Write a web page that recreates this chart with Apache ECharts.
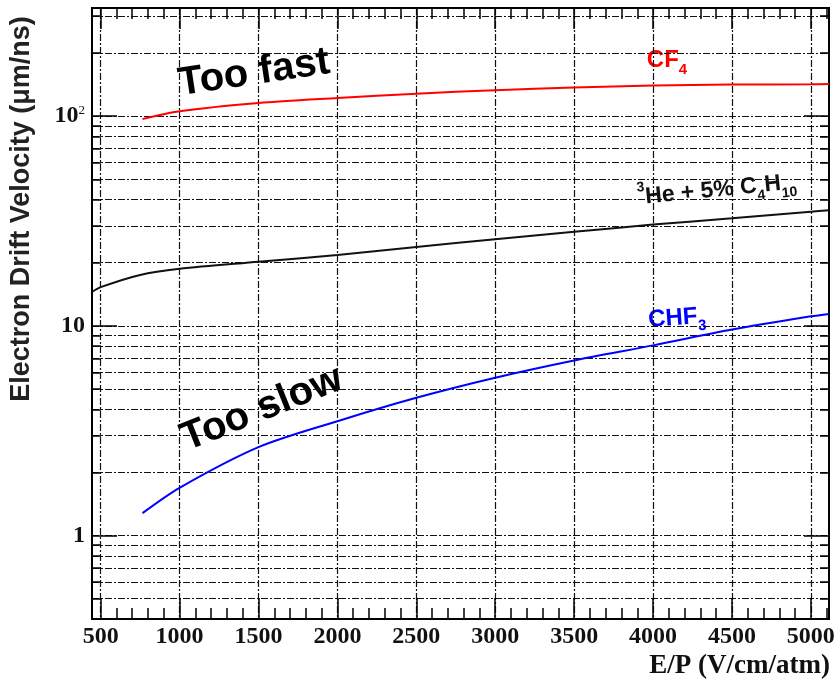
<!DOCTYPE html>
<html>
<head>
<meta charset="utf-8">
<script src="https://cdn.jsdelivr.net/npm/echarts@6/dist/echarts.min.js"></script>
<style>
html, body { margin: 0; padding: 0; background: #fff; }
#chart { width: 840px; height: 683px; }
</style>
</head>
<body>
<div id="chart"></div>
<script>
// E/P (V/cm/atm) and drift velocity (um/ns)
var cf4_ep  = [765, 1000, 1500, 2000, 2500, 3000, 3500, 4000, 4500, 5000, 5115];
var cf4_v   = [96.8, 105.5, 115.5, 122, 128, 133, 137, 140, 141.5, 142, 142.3];
var he_ep   = [445, 500, 750, 1000, 1500, 2000, 2500, 3000, 3500, 4000, 4500, 5000, 5115];
var he_v    = [14.5, 15.3, 17.5, 18.7, 20.2, 21.8, 23.8, 25.9, 28.1, 30.4, 32.6, 35.0, 35.6];
var chf3_ep = [765, 1000, 1500, 2000, 2500, 3000, 3500, 4000, 4500, 5000, 5115];
var chf3_v  = [1.28, 1.69, 2.64, 3.51, 4.54, 5.66, 6.84, 8.07, 9.6, 11.1, 11.4];

// tick labels
var xMajorTicks = [500, 1000, 1500, 2000, 2500, 3000, 3500, 4000, 4500, 5000];
var yLabelTicks = [1, 10, 100];

var xRange = [445, 5115];
var yRange = [0.4, 328];

// minor ticks: every 100 on x, 1..9 per decade on y
var xMinorTicks = [];
for (var t = 500; t <= 5100; t += 100) xMinorTicks.push(t);
var yGridTicks = [];
[0.1, 1, 10, 100].forEach(function (d) {
	for (var k = 1; k <= 9; k++) {
		var v = +(d * k).toPrecision(3);
		if (v > yRange[0] && v < yRange[1]) yGridTicks.push(v);
	}
});

function pairs(xs, ys) {
	return xs.map(function (x, i) { return [x, ys[i]]; });
}

var gridDash = { color: '#111', width: 1.2, type: [7, 2, 2, 2] };
var serifLabel = { fontFamily: 'Liberation Serif', fontWeight: 'bold', fontSize: 24, color: '#111' };

function xAxisDef(pos, ticks, len, withLabels, withGrid) {
	return {
		type: 'value', position: pos, min: xRange[0], max: xRange[1],
		axisLine: { show: false },
		axisTick: { show: true, inside: true, length: len, customValues: ticks,
			lineStyle: { color: '#000', width: 1.5 } },
		axisLabel: withLabels ? Object.assign({ show: true, margin: 6, customValues: xMajorTicks,
			formatter: function (v) { return String(v); } }, serifLabel) : { show: false },
		splitLine: withGrid ? { show: true, lineStyle: gridDash } : { show: false }
	};
}

function yAxisDef(pos, ticks, len, withLabels, withGrid) {
	return {
		type: 'log', logBase: 10, position: pos, min: yRange[0], max: yRange[1],
		axisLine: { show: false },
		axisTick: { show: true, inside: true, length: len, customValues: ticks,
			lineStyle: { color: '#000', width: 1.5 } },
		axisLabel: withLabels ? {
			show: true, margin: 7, customValues: yLabelTicks,
			formatter: function (v) { return v === 100 ? '{b|10}{p|2}' : '{b|' + v + '}'; },
			rich: {
				b: serifLabel,
				p: { fontFamily: 'Liberation Serif', fontSize: 13, color: '#111', verticalAlign: 'top', padding: [0, 0, 12, 0] }
			}
		} : { show: false },
		splitLine: withGrid ? { show: true, lineStyle: gridDash } : { show: false },
		minorTick: { show: false },
		minorSplitLine: { show: false }
	};
}

var sansTxt = 'Liberation Sans';

var option = {
	animation: false,
	backgroundColor: '#fff',
	grid: {
		left: 92, right: 11, top: 8, bottom: 64,
		show: true, borderColor: '#000', borderWidth: 2,
		outerBoundsMode: 'none'
	},
	xAxis: [
		xAxisDef('bottom', xMajorTicks, 21, true, true),
		xAxisDef('bottom', xMinorTicks, 11, false, false),
		xAxisDef('top', xMajorTicks, 21, false, false),
		xAxisDef('top', xMinorTicks, 11, false, false)
	],
	yAxis: [
		yAxisDef('left', yGridTicks, 9, true, true),
		yAxisDef('left', yLabelTicks, 25, false, false),
		yAxisDef('right', yGridTicks, 9, false, false),
		yAxisDef('right', yLabelTicks, 25, false, false)
	],
	series: [
		{ type: 'line', name: 'CF4', data: pairs(cf4_ep, cf4_v), smooth: 0.3, showSymbol: false,
		  lineStyle: { color: '#ff0000', width: 2 }, itemStyle: { color: '#ff0000' } },
		{ type: 'line', name: 'He', data: pairs(he_ep, he_v), smooth: 0.3, showSymbol: false,
		  lineStyle: { color: '#111', width: 2 }, itemStyle: { color: '#111' } },
		{ type: 'line', name: 'CHF3', data: pairs(chf3_ep, chf3_v), smooth: 0.3, showSymbol: false,
		  lineStyle: { color: '#0000ff', width: 2 }, itemStyle: { color: '#0000ff' } }
	],
	graphic: [
		{ type: 'text', x: 22, y: 209, rotation: Math.PI / 2,
		  style: { text: 'Electron Drift Velocity (μm/ns)', font: 'bold 27px "Liberation Sans"', fill: '#222',
		           align: 'center', verticalAlign: 'middle' } },
		{ type: 'text', x: 830, y: 666,
		  style: { text: 'E/P (V/cm/atm)', font: 'bold 27px "Liberation Serif"', fill: '#111',
		           align: 'right', verticalAlign: 'middle' } },
		{ type: 'text', x: 254, y: 73, rotation: 0.148,
		  style: { text: 'Too fast', font: 'bold 40px "Liberation Sans"', fill: '#000',
		           align: 'center', verticalAlign: 'middle' } },
		{ type: 'text', x: 262, y: 409, rotation: 0.38,
		  style: { text: 'Too slow', font: 'bold 40px "Liberation Sans"', fill: '#000',
		           align: 'center', verticalAlign: 'middle' } },
		{ type: 'text', x: 667, y: 60,
		  style: { text: '{n|CF}{s|4}', align: 'center', verticalAlign: 'middle',
		           rich: {
		             n: { fontFamily: sansTxt, fontWeight: 'bold', fontSize: 24, lineHeight: 34, fill: '#ff0000' },
		             s: { fontFamily: sansTxt, fontWeight: 'bold', fontSize: 15, lineHeight: 15, fill: '#ff0000', verticalAlign: 'bottom' }
		           } } },
		{ type: 'text', x: 677, y: 318, rotation: 0.07,
		  style: { text: '{n|CHF}{s|3}', align: 'center', verticalAlign: 'middle',
		           rich: {
		             n: { fontFamily: sansTxt, fontWeight: 'bold', fontSize: 24, lineHeight: 34, fill: '#0000ff' },
		             s: { fontFamily: sansTxt, fontWeight: 'bold', fontSize: 15, lineHeight: 15, fill: '#0000ff', verticalAlign: 'bottom' }
		           } } },
		{ type: 'text', x: 717, y: 190, rotation: 0.1,
		  style: { text: '{p|3}{n|He + 5% C}{s|4}{n|H}{s|10}', align: 'center', verticalAlign: 'middle',
		           rich: {
		             n: { fontFamily: sansTxt, fontWeight: 'bold', fontSize: 23, lineHeight: 34, fill: '#111' },
		             s: { fontFamily: sansTxt, fontWeight: 'bold', fontSize: 14, lineHeight: 15, fill: '#111', verticalAlign: 'bottom' },
		             p: { fontFamily: sansTxt, fontWeight: 'bold', fontSize: 14, lineHeight: 15, fill: '#111', verticalAlign: 'top' }
		           } } }
	]
};

var myChart = echarts.init(document.getElementById('chart'), null, { renderer: 'canvas' });
myChart.setOption(option);
</script>
</body>
</html>
